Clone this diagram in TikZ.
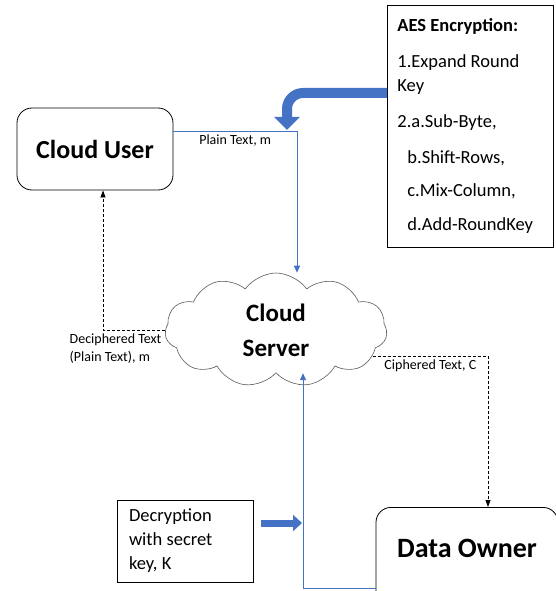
\documentclass[tikz,border=0pt]{standalone}
\usepackage{fontspec}
\setmainfont{Carlito}
\usetikzlibrary{shapes.symbols,arrows.meta}
\definecolor{officeblue}{RGB}{68,114,196}
\begin{document}
\begin{tikzpicture}[x=1pt,y=-1pt,
  box/.style={draw, line width=0.8pt},
  thinblue/.style={officeblue, line width=1pt, -{Triangle[length=7pt,width=6pt]}},
  fatblue/.style={officeblue, line width=10pt},
  dashlink/.style={black, line width=0.8pt, dash pattern=on 3pt off 2pt, -{Triangle[length=7pt,width=5pt]}},
  small/.style={black, font=\fontsize{14}{18}\selectfont}]
 \useasboundingbox (0,0) rectangle (555,591);

 \node[box, rounded corners=15pt, minimum width=156pt, minimum height=82pt, font=\bfseries\fontsize{26}{30}\selectfont] (user) at (95,149) {Cloud User};

 \node[box, anchor=north west, minimum height=242pt, text width=146pt, inner xsep=10pt, align=flush left, font=\fontsize{18.5}{24}\selectfont] (aes) at (387,5)
  {\textbf{AES Encryption:}\\[12pt]
   1.Expand Round\\
   Key\\[12pt]
   2.a.Sub-Byte,\\[12pt]
   \hspace*{10pt}b.Shift-Rows,\\[9pt]
   \hspace*{10pt}c.Mix-Column,\\[10pt]
   \hspace*{10pt}d.Add-RoundKey};

 \node[cloud, draw=black!65, line width=0.6pt, cloud puffs=11, cloud puff arc=110, aspect=2, minimum width=222pt, minimum height=114pt, align=center, font=\bfseries\fontsize{25}{35}\selectfont] (server) at (276,330) {Cloud\\Server};

 \node[box, rounded corners=15pt, anchor=north, minimum width=182pt, text height=50pt, text depth=50pt, inner ysep=0pt, font=\bfseries\fontsize{28}{32}\selectfont] (owner) at (467,507) {Data Owner};

 \node[box, minimum height=82pt, text width=112pt, inner xsep=12pt, align=flush left, font=\fontsize{18.5}{24}\selectfont] (decrypt) at (185,541) {Decryption\\with secret\\key, K};

 % encryption steps feed the plain text
 \coordinate (bend) at (287,93);
 \coordinate (tip) at (287,130);
 \draw[fatblue, rounded corners=16pt, -{Triangle[length=13pt,width=25pt]}] (aes.west |- bend) -- (bend) -- (tip);

 \draw[thinblue] ([yshift=18pt]user.east) -| node[small, below, pos=0.25] {Plain Text, m} ([xshift=21pt]server.north);

 \draw[dashlink] (server.west) -| node[small, align=left, anchor=north east, pos=0] {Deciphered Text\\(Plain Text), m} ([xshift=8pt]user.south);

 \draw[dashlink] (server.-15) -| node[small, anchor=north east, pos=0.5, xshift=-8pt] {Ciphered Text, C} ([xshift=21pt]owner.north);

 \draw[thinblue] ([yshift=-31pt]owner.west) -| ([xshift=27pt]server.south);

 % key goes into the return path
 \coordinate (kin) at (302,523);
 \draw[fatblue, line width=7pt, -{Triangle[length=9pt,width=16pt]}] ([xshift=8pt]decrypt.east |- kin) -- (kin);
\end{tikzpicture}
\end{document}
